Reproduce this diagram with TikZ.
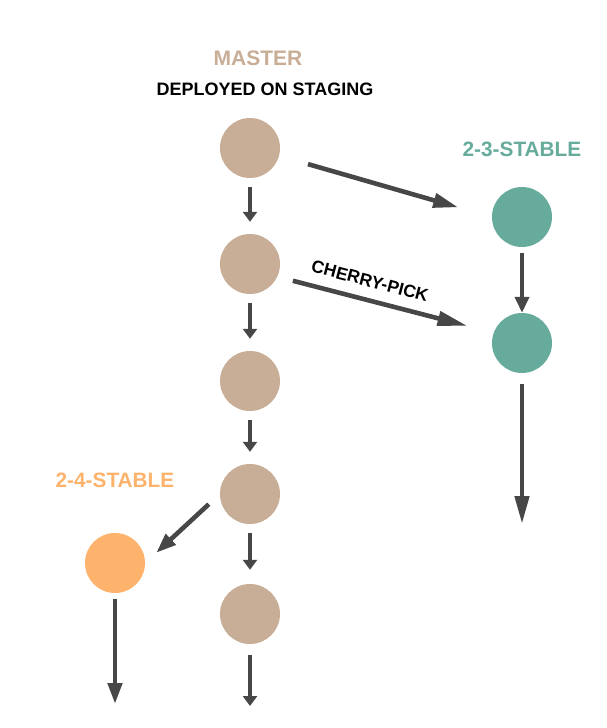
\documentclass[tikz,border=0pt]{standalone}
\usepackage{fontspec}
\setmainfont{Liberation Sans}
\usetikzlibrary{arrows.meta}
\definecolor{mastertan}{HTML}{C8AE96}
\definecolor{stablegreen}{HTML}{66AB9C}
\definecolor{stableorange}{HTML}{FDB36C}
\definecolor{arrowgray}{HTML}{474747}
\begin{document}
\begin{tikzpicture}[x=1pt,y=-1pt,
    commit/.style={circle,inner sep=0pt,minimum size=60pt,fill=#1},
    tag/.style={font=\bfseries\fontsize{#1}{#1}\selectfont,inner sep=0pt},
    link/.style={draw=arrowgray,line width=4.6pt,-{Triangle[width=14pt,length=#1]}},
    link/.default=10pt]
        \useasboundingbox (0,0) rectangle (607,728);
        \node[tag=21pt,text=mastertan] (mn) at (258,58) {MASTER};
        \node[tag=18pt] (dn) at (265,89) {DEPLOYED ON STAGING};
        \node[tag=20.8pt,text=stablegreen] (s3n) at (522,149) {2-3-STABLE};
        \node[tag=20.8pt,text=stableorange] (s4n) at (115,480) {2-4-STABLE};
        \node[tag=17.5pt,rotate=-14.7] (cpn) at (370,281) {CHERRY-PICK};
        \node[commit=mastertan] (m1) at (250,148) {};  \node[commit=mastertan] (m2) at (250,264) {};
        \node[commit=mastertan] (m3) at (250,381) {};  \node[commit=mastertan] (m4) at (250,494) {};
        \node[commit=mastertan] (m5) at (250,614) {};
        \node[commit=stablegreen] (s3a) at (522,217) {};  \node[commit=stablegreen] (s3b) at (522,343) {};
        \node[commit=stableorange] (s4a) at (115,563) {};
        \coordinate (m5end) at (250,706);  \coordinate (s3end) at (522,524);  \coordinate (s4end) at (115,704);
        \draw [link,shorten <=9pt,shorten >=12pt] (m1.south) -- (m2.north);
        \draw [link,shorten <=9pt,shorten >=12pt] (m2.south) -- (m3.north);
        \draw [link,shorten <=9pt,shorten >=12pt] (m3.south) -- (m4.north);
        \draw [link,shorten <=9pt,shorten >=14pt] (m4.south) -- (m5.north);
        \draw [link,shorten <=11pt] (m5.south) -- (m5end);
        \draw [link=16pt,shorten <=6pt] (s3a.south) -- (s3b.north);
        \draw [link=28pt,shorten <=11pt] (s3b.south) -- (s3end);
        \draw [link=21pt,shorten <=6pt] (s4a.south) -- (s4end);
        \draw [link=25pt,shorten <=30pt,shorten >=35pt] (m1.-15) -- (s3a.west);
        \draw [link=30pt,shorten <=16pt,shorten >=27pt] (m2.-25) -- (s3b.160);
        \draw [link=20pt,shorten <=15pt,shorten >=15pt] (m4.west) -- (s4a.east);
    \end{tikzpicture}
\end{document}
